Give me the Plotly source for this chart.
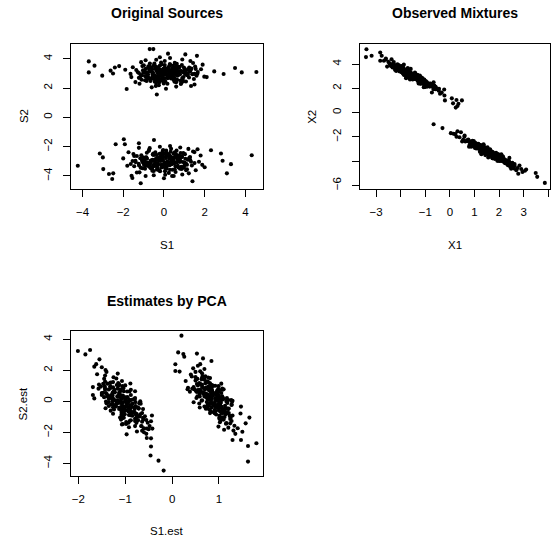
import plotly.graph_objects as go

# ---------------- data ----------------
# Panel 1: Original Sources (S1, S2) - upper cluster
sources_upper_s1 = [0.20,-0.61,1.18,-0.20,0.59,-1.14,0.90,0.04,0.45,-0.43,
 1.66,-0.08,0.75,-0.83,0.13,-0.31,1.08,-1.36,0.35,-0.69,
 0.67,-0.02,1.39,-0.38,0.85,-1.01,0.26,-0.53,0.98,-0.15,
 1.98,-1.64,0.53,-0.22,0.92,-0.90,0.17,-0.47,1.28,0.07,
 0.64,-1.23,0.39,-0.66,1.53,-0.28,0.29,-0.95,0.79,0.01,
 1.04,-0.57,0.49,-1.53,0.70,-0.11,1.23,-0.34,0.23,-0.78,
 1.82,-0.18,0.60,-1.10,0.41,-0.50,1.15,0.06,0.88,-0.88,
 0.32,-0.39,1.47,-0.05,0.56,-0.73,0.15,-1.29,0.97,-0.27,
 0.72,-0.63,1.35,-0.16,0.47,-1.06,0.82,0.02,1.11,-0.45,
 0.36,-0.93,0.63,-0.25,1.60,-0.55,0.24,-0.04,0.52,-0.36,
 -0.31,0.38,0.71,-0.91,0.18,-0.14,-0.56,1.32,-0.06,0.88,
 0.30,-0.43,1.04,-0.75,0.52,0.12,-1.08,0.60,-0.63,1.56,
 -0.22,0.76,-0.01,-1.23,0.47,0.23,1.17,-0.47,0.96,-0.09,
 -0.37,0.03,1.64,0.45,-0.78,0.78,-1.40,-0.18,0.40,0.04,
 0.65,-0.54,0.26,-0.99,1.12,1.02,-0.25,0.50,-0.03,-0.69,
 0.57,0.15,-0.85,1.01,0.34,1.43,-0.49,-0.34,0.85,-0.05,
 0.72,0.32,-1.18,-0.83,0.62,1.24,-0.16,-1.03,1.33,-0.38,
 0.20,0.69,-0.72,0.07,0.94,0.42,-0.45,0.29,0.24,-0.58,
 -0.10,0.98,0.83,-0.77,0.42,1.16,-0.93,0.61,0.14,-1.12,
 -0.40,-0.27,1.50,0.22,-0.23,0.00,0.36,-0.20,-0.51,0.54,
 0.30,-0.20,0.90,-0.90,1.30,0.60,-0.60,0.10,1.50,-1.20,-0.40,1.90,-1.90,-1.60,2.10,
 -3.69,-3.41,-3.69,-3.03,-2.62,-2.41,-0.70,-0.52,3.49,3.82,4.54,2.93,2.47,1.62,-0.35,-1.83,1.05,0.20,-2.20,-2.50]
sources_upper_s2 = [2.81,3.13,3.29,2.53,3.04,2.89,2.69,3.57,2.92,3.37,
 3.09,2.75,3.44,2.61,3.20,3.01,2.45,3.23,2.66,3.68,
 2.85,3.31,2.95,2.38,3.17,3.06,3.50,2.74,3.40,2.91,
 2.78,2.97,3.72,3.16,2.59,3.32,2.30,2.87,3.14,2.97,
 3.26,2.70,3.08,2.49,3.47,3.43,2.84,3.18,2.94,2.63,
 3.22,3.03,2.56,3.42,3.11,3.62,2.72,2.79,3.35,2.93,
 3.29,3.10,2.40,2.57,3.24,3.53,2.88,2.47,3.58,2.78,
 3.05,3.28,2.62,2.99,3.39,3.15,2.74,3.09,3.07,2.68,
 2.91,3.41,3.34,2.59,3.15,3.50,2.52,3.24,3.02,2.43,
 2.77,2.83,3.66,3.05,2.84,2.95,3.12,2.86,2.71,3.21,
 2.77,3.21,2.93,3.07,2.68,3.74,2.83,3.26,2.49,3.13,
 2.73,3.50,2.96,3.36,2.43,3.18,2.87,3.62,2.64,3.31,
 2.82,3.43,2.32,3.03,2.59,3.23,2.92,3.68,2.76,3.11,
 2.52,3.39,2.98,3.52,2.70,3.16,2.41,3.25,2.86,3.85,
 2.57,3.06,2.78,3.56,2.90,3.30,2.19,3.19,2.67,3.47,
 2.95,3.34,2.48,3.09,2.81,3.71,2.63,3.14,2.34,3.27,
 2.99,3.58,2.72,3.03,2.50,3.41,2.84,3.21,2.14,3.93,
 2.88,3.44,2.69,3.08,2.45,3.37,2.77,3.64,2.94,3.28,
 2.61,3.12,2.28,3.48,2.80,3.01,2.54,3.32,2.91,3.77,
 2.74,3.17,2.97,3.40,2.39,3.24,2.85,3.53,2.65,3.05,
 4.05,4.10,3.95,3.90,3.85,2.10,2.05,1.95,2.25,2.30,2.15,3.60,3.25,2.75,2.75,
 3.82,3.53,3.07,2.85,3.19,3.41,4.66,4.66,3.37,3.07,3.10,2.96,3.14,4.20,1.56,1.94,4.30,4.35,3.50,3.00]

# Panel 1: Original Sources - lower cluster
sources_lower_s1 = [0.10,-0.71,1.08,-0.30,0.49,-1.24,0.80,-0.06,0.35,-0.53,
 1.56,-0.18,0.65,-0.93,0.03,-0.41,0.98,-1.46,0.25,-0.79,
 0.57,-0.12,1.29,-0.48,0.75,-1.11,0.16,-0.63,0.88,-0.25,
 1.88,-1.74,0.43,-0.32,0.82,-1.00,0.07,-0.57,1.18,-0.03,
 0.54,-1.33,0.29,-0.76,1.43,-0.38,0.19,-1.05,0.69,-0.09,
 0.94,-0.67,0.39,-1.63,0.60,-0.21,1.13,-0.44,0.13,-0.88,
 1.72,-0.28,0.50,-1.20,0.31,-0.60,1.05,-0.04,0.78,-0.98,
 0.22,-0.49,1.37,-0.15,0.46,-0.83,0.05,-1.39,0.87,-0.37,
 0.62,-0.73,1.25,-0.26,0.37,-1.16,0.72,-0.08,1.01,-0.55,
 0.26,-1.03,0.53,-0.35,1.50,-0.65,0.14,-0.14,0.42,-0.46,
 0.41,-0.28,-0.61,1.01,-0.08,0.24,0.66,-1.22,0.16,-0.78,
 -0.20,0.53,-0.94,0.85,-0.42,-0.02,1.18,-0.50,0.73,-1.46,
 0.32,-0.66,0.11,1.33,-0.37,-0.13,-1.07,0.57,-0.86,0.19,
 0.47,0.07,-1.54,-0.35,0.88,-0.68,1.50,0.28,-0.30,0.06,
 -0.55,0.64,-0.16,1.09,-1.02,-0.92,0.35,-0.40,0.13,0.79,
 -0.47,-0.05,0.95,-0.91,-0.24,-1.33,0.59,0.44,-0.75,0.15,
 -0.62,-0.22,1.28,0.93,-0.52,-1.14,0.26,1.13,-1.23,0.48,
 -0.10,-0.59,0.82,0.03,-0.84,-0.32,0.55,-0.19,-0.14,0.68,
 0.20,-0.88,-0.73,0.87,-0.32,-1.06,1.03,-0.51,-0.04,1.22,
 0.50,0.37,-1.40,-0.12,0.33,0.10,-0.26,0.30,0.61,-0.44,
 0.30,-0.20,0.80,-0.70,1.20,0.40,-0.50,0.90,-0.90,0.00,1.80,-1.80,-2.00,2.00,-1.50,
 -4.23,-3.15,-3.00,-2.70,-2.49,-2.54,-2.37,-1.97,-1.92,-1.23,-0.49,1.65,2.31,2.80,2.88,3.29,3.09,4.31,-1.14,1.40,-2.98,-1.59,-1.55]
sources_lower_s2 = [-2.78,-3.31,-3.15,-2.87,-3.05,-3.17,-2.94,-2.30,-3.18,-3.25,
 -3.61,-2.98,-2.74,-3.51,-2.47,-2.84,-3.44,-2.64,-2.56,-3.10,
 -3.34,-2.93,-2.91,-3.27,-2.84,-2.58,-3.01,-3.41,-2.70,-2.95,
 -3.24,-2.38,-3.57,-3.13,-2.43,-2.74,-3.46,-3.64,-2.89,-2.69,
 -3.08,-2.63,-3.22,-3.30,-2.33,-2.88,-2.55,-3.47,-2.97,-2.77,
 -3.40,-3.06,-2.80,-3.18,-2.54,-2.49,-3.54,-2.92,-3.32,-2.73,
 -3.03,-2.85,-3.14,-3.75,-2.66,-3.44,-2.82,-2.23,-3.04,-3.23,
 -3.09,-2.57,-3.28,-2.46,-2.94,-2.82,-3.67,-3.05,-2.67,-3.16,
 -2.27,-3.36,-2.75,-3.59,-2.99,-2.79,-3.42,-2.53,-3.27,-2.90,
 -2.61,-3.08,-2.39,-3.33,-3.12,-2.96,-3.50,-2.69,-2.86,-3.20,
 -2.76,-3.22,-2.93,-3.08,-2.65,-3.79,-2.82,-3.28,-2.46,-3.14,
 -2.71,-3.54,-2.96,-3.38,-2.39,-3.19,-2.86,-3.66,-2.61,-3.33,
 -2.81,-3.46,-2.27,-3.03,-2.56,-3.24,-2.92,-3.73,-2.74,-3.12,
 -2.48,-3.41,-2.98,-3.56,-2.68,-3.17,-2.37,-3.27,-2.85,-3.91,
 -2.54,-3.07,-2.77,-3.60,-2.89,-3.32,-2.14,-3.21,-2.64,-3.50,
 -2.95,-3.37,-2.44,-3.10,-2.80,-3.76,-2.60,-3.15,-2.29,-3.28,
 -2.99,-3.63,-2.70,-3.04,-2.47,-3.44,-2.83,-3.23,-2.08,-4.00,
 -2.87,-3.47,-2.67,-3.09,-2.41,-3.40,-2.75,-3.68,-2.94,-3.30,
 -2.58,-3.13,-2.23,-3.52,-2.78,-3.01,-2.51,-3.34,-2.91,-3.82,
 -2.72,-3.19,-2.97,-3.42,-2.34,-3.26,-2.84,-3.57,-2.63,-3.05,
 -1.95,-2.00,-2.05,-2.10,-2.15,-4.00,-3.95,-3.90,-4.00,-4.15,-2.60,-3.30,-2.80,-3.40,-2.50,
 -3.30,-2.46,-2.73,-3.86,-3.82,-4.20,-1.83,-1.49,-1.83,-1.76,-1.54,-2.17,-2.24,-2.46,-2.96,-3.19,-3.82,-2.58,-4.49,-4.36,-3.53,-3.98,-4.14]

# Panel 2: Observed Mixtures (X1, X2) - upper cluster
mixtures_upper_x1 = [-1.48,-2.01,-0.85,-1.74,-1.23,-2.35,-1.03,-1.59,-1.32,-1.89,
 -0.54,-1.67,-1.13,-2.15,-1.53,-1.81,-0.92,-2.50,-1.39,-2.06,
 -1.18,-1.63,-0.71,-1.86,-1.07,-2.27,-1.45,-1.96,-0.98,-1.71,
 -0.33,-2.68,-1.27,-1.76,-1.02,-2.20,-1.51,-1.92,-0.79,-1.57,
 -1.20,-2.41,-1.36,-2.04,-0.63,-1.80,-1.43,-2.23,-1.10,-1.61,
 -0.94,-1.98,-1.30,-2.61,-1.16,-1.69,-0.82,-1.84,-1.47,-2.12,
 -0.44,-1.73,-1.23,-2.33,-1.35,-1.94,-0.87,-1.58,-1.04,-2.18,
 -1.41,-1.87,-0.66,-1.65,-1.25,-2.09,-1.52,-2.45,-0.99,-1.79,
 -1.15,-2.02,-0.74,-1.72,-1.31,-2.30,-1.08,-1.60,-0.90,-1.91,
 -1.38,-2.22,-1.21,-1.78,-0.58,-1.97,-1.46,-1.64,-1.28,-1.85,
 -1.82,-1.36,-1.14,-2.22,-1.50,-1.71,-1.99,-0.74,-1.66,-1.03,
 -1.42,-1.90,-0.93,-2.11,-1.27,-1.54,-2.34,-1.22,-2.04,-0.58,
 -1.77,-1.11,-1.62,-2.44,-1.30,-1.47,-0.84,-1.93,-0.98,-1.68,
 -1.86,-1.60,-0.52,-1.32,-2.14,-1.09,-2.55,-1.74,-1.35,-1.59,
 -1.18,-1.98,-1.44,-2.28,-0.87,-0.94,-1.78,-1.29,-1.63,-2.08,
 -1.24,-1.51,-2.18,-0.94,-1.39,-0.66,-1.95,-1.84,-1.05,-1.65,
 -1.14,-1.41,-2.40,-2.17,-1.20,-0.79,-1.72,-2.31,-0.73,-1.87,
 -1.48,-1.15,-2.10,-1.57,-0.99,-1.34,-1.92,-1.42,-1.45,-2.01,
 -1.68,-0.96,-1.06,-2.13,-1.33,-0.84,-2.23,-1.21,-1.53,-2.37,
 -1.88,-1.80,-0.61,-1.47,-1.77,-1.62,-1.38,-1.75,-1.96,-1.26,
 -3.39,-3.41,-3.18,-2.83,-2.77,-2.83,-2.60,-0.22,-0.20,0.08,0.27,0.49,0.13,0.35,0.31,0.24,-0.23,-0.40,-0.45]
mixtures_upper_x2 = [2.90,3.60,2.40,3.07,2.72,3.88,2.36,3.32,2.77,3.57,
 1.99,3.08,2.77,3.54,3.11,3.34,2.14,4.18,2.74,3.88,
 2.59,3.26,2.12,3.13,2.59,3.86,3.14,3.39,2.59,3.19,
 1.64,4.27,3.04,3.34,2.30,3.89,2.72,3.40,2.27,3.06,
 2.78,3.87,2.88,3.38,2.23,3.49,2.85,3.87,2.54,2.97,
 2.47,3.53,2.60,4.37,2.67,3.45,2.14,3.28,3.10,3.64,
 1.96,3.29,2.46,3.72,2.93,3.69,2.26,2.87,2.73,3.65,
 2.91,3.51,1.93,3.15,2.88,3.70,2.91,4.06,2.47,3.18,
 2.58,3.73,2.31,3.07,2.85,4.07,2.35,3.20,2.34,3.21,
 2.77,3.71,2.94,3.32,1.93,3.49,3.00,3.09,2.64,3.46,
 3.25,2.93,2.58,3.81,2.86,3.67,3.46,2.28,2.86,2.54,
 2.80,3.74,2.36,3.81,2.40,3.11,3.85,3.06,3.43,2.12,
 3.21,2.83,2.72,4.02,2.62,3.05,2.25,3.86,2.33,3.23,
 3.10,3.26,1.93,3.11,3.57,2.62,3.79,3.35,2.78,3.60,
 2.40,3.54,2.85,4.17,2.27,2.51,2.83,2.84,3.01,3.90,
 2.69,3.15,3.42,2.43,2.80,2.50,3.33,3.43,2.11,3.27,
 2.60,3.24,3.86,3.73,2.38,2.39,3.17,3.96,1.65,3.95,
 2.93,2.88,3.52,3.10,2.12,2.97,3.35,3.29,2.92,3.66,
 3.04,2.46,2.09,3.97,2.73,2.29,3.52,2.81,2.99,4.40,
 3.30,3.39,2.02,3.13,2.92,3.22,2.80,3.58,3.35,2.75,
 5.22,4.57,4.68,4.95,4.68,4.27,4.45,1.41,1.00,1.17,1.03,1.00,0.76,0.73,0.54,0.41,1.90,1.55,1.80]

# Panel 2: Observed Mixtures - lower cluster
mixtures_lower_x1 = [1.53,2.10,0.84,1.81,1.25,2.48,1.04,1.64,1.35,1.97,
 0.50,1.73,1.14,2.25,1.58,1.89,0.91,2.63,1.43,2.16,
 1.20,1.68,0.69,1.94,1.07,2.39,1.49,2.04,0.98,1.77,
 0.27,2.83,1.29,1.83,1.02,2.31,1.55,2.00,0.77,1.62,
 1.22,2.54,1.40,2.13,0.59,1.87,1.47,2.34,1.11,1.67,
 0.93,2.07,1.32,2.75,1.17,1.75,0.80,1.91,1.51,2.22,
 0.39,1.80,1.25,2.45,1.38,2.03,0.86,1.63,1.05,2.29,
 1.44,1.95,0.63,1.71,1.28,2.19,1.56,2.58,0.99,1.86,
 1.16,2.12,0.72,1.79,1.34,2.42,1.09,1.65,0.89,1.99,
 1.41,2.33,1.23,1.85,0.54,2.06,1.50,1.70,1.31,1.92,
 1.33,1.79,2.01,0.93,1.65,1.44,1.16,2.41,1.49,2.12,
 1.73,1.25,2.22,1.04,1.88,1.61,0.81,1.93,1.11,2.57,
 1.38,2.04,1.53,0.71,1.85,1.68,2.31,1.22,2.17,1.47,
 1.29,1.55,2.63,1.83,1.01,2.06,0.60,1.41,1.80,1.56,
 1.97,1.17,1.71,0.87,2.28,2.21,1.37,1.86,1.52,1.07,
 1.91,1.64,0.97,2.21,1.76,2.49,1.20,1.31,2.10,1.50,
 2.01,1.74,0.75,0.98,1.95,2.36,1.43,0.84,2.42,1.28,
 1.67,2.00,1.05,1.58,2.16,1.81,1.23,1.73,1.70,1.14,
 1.47,2.19,2.09,1.02,1.82,2.31,0.92,1.94,1.62,0.78,
 1.27,1.35,2.54,1.68,1.38,1.53,1.77,1.40,1.19,1.89,
 0.04,0.15,0.31,0.45,0.22,2.60,2.90,3.05,2.95,2.70,2.78,3.10,3.49,3.55,3.86,-0.66,-0.30]
mixtures_lower_x2 = [-3.14,-3.94,-2.56,-3.47,-2.95,-4.28,-2.69,-3.08,-3.11,-3.79,
 -2.38,-3.43,-2.72,-4.18,-3.08,-3.54,-2.74,-4.25,-2.95,-3.92,
 -3.01,-3.36,-2.31,-3.76,-2.69,-3.97,-3.19,-3.92,-2.53,-3.46,
 -2.00,-4.36,-3.19,-3.59,-2.47,-3.94,-3.43,-3.96,-2.38,-3.20,
 -2.93,-4.15,-3.17,-3.97,-1.99,-3.54,-2.99,-4.26,-2.78,-3.28,
 -2.75,-3.82,-2.94,-4.58,-2.68,-3.27,-2.67,-3.60,-3.33,-3.85,
 -2.04,-3.45,-2.98,-4.47,-2.94,-3.91,-2.45,-3.04,-2.73,-4.11,
 -3.17,-3.50,-2.39,-3.21,-2.94,-3.85,-3.51,-4.35,-2.53,-3.63,
 -2.57,-3.98,-2.28,-3.72,-3.03,-4.08,-2.92,-3.18,-2.65,-3.67,
 -2.96,-4.09,-2.68,-3.68,-2.24,-3.77,-3.38,-3.29,-2.94,-3.72,
 -2.89,-3.61,-3.71,-2.61,-3.19,-3.51,-2.74,-4.31,-2.92,-3.93,
 -3.30,-3.18,-3.96,-2.88,-3.31,-3.41,-2.38,-3.98,-2.58,-4.51,
 -2.97,-4.00,-2.86,-2.35,-3.35,-3.51,-4.03,-3.24,-3.79,-3.22,
 -2.71,-3.45,-4.40,-3.83,-2.51,-3.88,-1.90,-3.23,-3.44,-3.70,
 -3.47,-2.87,-3.30,-2.81,-3.98,-4.12,-2.62,-3.69,-3.04,-2.97,
 -3.61,-3.52,-2.34,-4.01,-3.38,-4.63,-2.68,-3.06,-3.50,-3.33,
 -3.74,-3.76,-2.23,-2.65,-3.42,-4.34,-3.03,-2.59,-3.74,-3.44,
 -3.31,-3.96,-2.55,-3.32,-3.62,-3.72,-2.78,-3.77,-3.37,-2.95,
 -2.95,-4.00,-3.45,-2.92,-3.43,-4.07,-2.32,-3.84,-3.28,-2.82,
 -2.81,-3.12,-4.30,-3.59,-2.74,-3.36,-3.41,-3.36,-2.68,-3.65,
 -1.70,-1.75,-1.55,-1.62,-1.78,-4.60,-4.65,-4.80,-4.90,-4.75,-5.05,-4.70,-4.98,-5.30,-5.80,-0.96,-1.28]

# Panel 3: Estimates by PCA (S1.est, S2.est) - left cluster
pca_left_s1 = [-1.08,-1.23,-0.62,-1.30,-0.88,-1.47,-0.90,-0.88,-0.97,-1.10,
 -0.54,-1.19,-0.71,-1.47,-0.98,-1.17,-0.92,-1.43,-1.08,-1.07,
 -0.92,-0.99,-0.66,-1.40,-0.76,-1.38,-0.84,-1.33,-0.64,-1.16,
 -0.54,-1.60,-0.68,-1.10,-0.93,-1.26,-1.26,-1.27,-0.64,-1.07,
 -0.80,-1.56,-0.94,-1.45,-0.45,-1.03,-1.04,-1.32,-0.85,-1.20,
 -0.69,-1.25,-1.07,-1.42,-0.83,-0.91,-0.79,-1.26,-0.90,-1.35,
 -0.42,-1.10,-1.09,-1.57,-0.87,-1.06,-0.76,-1.24,-0.62,-1.43,
 -0.97,-1.11,-0.75,-1.10,-0.78,-1.26,-1.12,-1.45,-0.76,-1.27,
 -0.89,-1.14,-0.55,-1.27,-0.89,-1.25,-0.98,-1.00,-0.73,-1.41,
 -1.04,-1.43,-0.67,-1.14,-0.64,-1.27,-0.97,-1.14,-1.01,-1.13,
 -1.24,-0.90,-0.89,-1.32,-1.13,-0.88,-1.30,-0.61,-1.26,-0.78,
 -1.08,-1.04,-0.79,-1.18,-1.11,-0.99,-1.44,-0.70,-1.38,-0.52,
 -1.20,-0.72,-1.31,-1.43,-1.08,-0.94,-0.76,-1.00,-0.88,-1.07,
 -1.35,-0.95,-0.60,-0.78,-1.41,-0.80,-1.69,-1.05,-1.01,-0.79,
 -1.03,-1.22,-1.07,-1.19,-0.79,-0.68,-1.42,-0.87,-1.20,-1.13,
 -0.93,-0.92,-1.50,-0.75,-1.04,-0.43,-1.35,-1.13,-1.05,-1.01,
 -0.87,-0.80,-1.52,-1.31,-1.06,-0.58,-1.18,-1.31,-0.97,-0.89,
 -1.06,-0.73,-1.39,-1.03,-0.98,-0.84,-1.29,-0.79,-1.03,-1.16,
 -1.24,-0.75,-1.07,-1.15,-1.02,-0.73,-1.50,-0.80,-1.07,-1.16,
 -1.28,-1.10,-0.65,-0.89,-1.35,-1.00,-1.02,-0.96,-1.34,-0.90,
 -2.01,-1.85,-1.75,-1.55,-1.62,-1.66,-1.69,-1.66,-0.45,-0.45,-0.46,-0.29,-0.18,-0.55,-0.50,-1.50,-1.40,-0.60,-0.48]
pca_left_s2 = [-0.40,0.75,-1.07,-0.20,-0.64,1.13,-1.26,0.41,-0.58,0.76,
 -1.75,-0.14,-0.47,0.55,0.01,0.32,-1.67,1.66,-0.69,1.31,
 -0.88,0.26,-1.59,-0.13,-0.80,1.14,0.12,0.33,-0.76,0.07,
 -2.37,1.75,0.00,0.36,-1.38,1.24,-0.80,0.38,-1.31,-0.13,
 -0.50,1.08,-0.38,0.27,-1.29,0.65,-0.47,1.18,-0.93,-0.34,
 -0.98,0.63,-0.93,2.02,-0.69,0.63,-1.60,0.18,0.03,0.77,
 -1.76,0.26,-1.18,0.82,-0.27,0.98,-1.39,-0.53,-0.50,0.75,
 -0.33,0.64,-1.95,0.03,-0.30,0.91,-0.40,1.46,-1.02,0.00,
 -0.89,1.02,-1.21,-0.19,-0.40,1.55,-1.33,0.16,-1.22,-0.01,
 -0.61,0.85,-0.15,0.30,-1.90,0.55,-0.19,-0.10,-0.83,0.55,
 0.10,-0.24,-0.82,0.97,-0.49,0.75,0.40,-1.17,-0.39,-0.83,
 -0.57,0.84,-1.13,1.05,-1.05,0.00,0.98,-0.12,0.32,-1.38,
 0.05,-0.45,-0.60,1.27,-0.86,-0.07,-1.30,1.03,-1.22,0.16,
 -0.05,0.27,-1.74,-0.05,0.53,-0.71,0.92,0.37,-0.55,0.65,
 -1.06,0.58,-0.48,1.47,-1.27,-0.83,-0.45,-0.38,-0.28,1.08,
 -0.65,0.10,0.41,-0.99,-0.54,-0.91,0.17,0.45,-1.46,0.25,
 -0.78,0.14,0.95,0.86,-1.09,-0.97,0.01,1.22,-2.13,1.15,
 -0.34,-0.38,0.45,-0.04,-1.46,-0.14,0.24,0.22,-0.33,0.82,
 -0.26,-0.94,-1.49,1.18,-0.64,-1.22,0.54,-0.39,-0.24,1.79,
 0.16,0.40,-1.61,0.08,-0.30,0.18,-0.52,0.63,0.21,-0.54,
 3.25,3.03,3.31,2.71,2.40,2.24,0.41,0.19,-2.39,-2.92,-3.50,-3.83,-4.47,-2.10,-1.80,2.20,1.90,-2.00,-1.60]

# Panel 3: Estimates by PCA - right cluster
pca_right_s1 = [0.97,0.60,1.12,0.84,1.00,0.50,1.11,1.08,0.92,0.67,
 1.11,0.84,1.13,0.48,1.05,0.82,1.01,0.60,1.08,0.64,
 0.93,0.87,1.25,0.67,1.13,0.71,0.92,0.59,1.20,0.83,
 1.31,0.60,0.83,0.76,1.27,0.69,0.76,0.54,1.23,0.97,
 1.00,0.64,0.89,0.59,1.46,0.82,1.07,0.46,1.07,0.93,
 1.01,0.68,1.04,0.40,1.18,0.98,1.02,0.79,0.82,0.73,
 1.33,0.85,0.97,0.34,1.07,0.59,1.21,1.10,1.08,0.55,
 0.91,0.88,1.16,1.00,1.02,0.71,0.69,0.50,1.21,0.73,
 1.26,0.58,1.29,0.63,0.98,0.64,0.94,1.00,1.07,0.76,
 1.07,0.58,1.20,0.69,1.24,0.72,0.77,0.94,1.03,0.70,
 0.85,0.88,1.06,0.61,1.00,0.58,0.77,1.10,1.00,1.03,
 1.02,0.59,1.13,0.55,1.17,0.83,0.63,0.81,0.81,1.15,
 0.86,0.91,1.07,0.54,1.10,0.84,1.17,0.52,1.17,0.80,
 0.92,0.74,1.27,0.80,0.76,1.00,0.69,0.73,1.00,0.59,
 1.16,0.70,0.99,0.43,1.17,1.01,1.05,0.92,0.96,0.53,
 1.01,0.79,0.81,1.08,1.00,0.99,0.85,0.72,1.28,0.76,
 1.04,0.75,0.65,0.64,1.17,1.04,0.87,0.53,1.47,0.46,
 0.94,0.89,0.78,0.85,1.27,0.84,0.82,0.72,0.94,0.62,
 0.96,1.06,1.29,0.51,1.03,1.14,0.77,0.91,0.92,0.33,
 0.84,0.73,1.24,0.78,0.99,0.78,0.99,0.64,0.84,0.97,
 0.20,0.13,0.24,0.26,0.53,0.66,0.84,0.07,0.07,0.16,0.29,0.38,1.65,1.80,1.62,1.62,1.29,1.47,1.50,1.57,
 0.45,0.55,1.40,1.35,1.20,0.50,0.42]
pca_right_s2 = [0.24,0.69,-1.01,0.59,-0.35,1.34,-0.58,0.75,-0.30,0.55,
 -1.83,0.38,-0.29,0.77,0.54,0.72,-1.12,1.94,0.25,0.92,
 -0.63,0.36,-1.06,0.48,-0.46,1.62,0.02,0.54,-0.50,0.48,
 -1.89,2.40,-0.65,0.43,-0.24,1.40,-0.21,0.32,-0.94,0.44,
 -0.41,1.81,-0.26,0.75,-0.79,0.67,0.32,0.93,-0.49,0.45,
 -1.05,0.83,-0.07,1.73,-0.10,0.77,-1.35,0.70,-0.17,1.28,
 -1.58,0.58,-0.42,0.88,0.11,0.49,-0.76,0.78,-0.63,1.02,
 -0.10,1.00,-1.41,0.73,-0.23,1.17,-0.34,1.56,-0.46,0.45,
 0.08,0.68,-0.91,0.04,-0.18,1.52,-0.85,0.60,-1.03,0.82,
 0.20,1.18,0.09,0.31,-1.42,0.89,-0.32,0.55,-0.14,0.51,
 0.75,-0.24,-0.35,1.11,0.36,-0.14,0.95,-1.18,0.73,-0.66,
 0.21,0.32,-0.68,0.73,0.22,0.04,1.42,-0.76,1.17,-1.45,
 0.64,-0.77,0.82,1.45,0.15,-0.10,-0.78,0.22,-0.45,0.29,
 1.01,-0.04,-1.27,-0.54,1.27,-0.59,2.09,0.27,0.01,-0.40,
 -0.01,0.76,0.20,0.81,-0.71,-0.92,1.14,-0.34,0.56,0.60,
 -0.23,-0.12,1.50,-0.75,0.10,-1.63,1.05,0.51,-0.03,0.14,
 -0.40,-0.46,1.63,1.06,0.07,-1.22,0.56,1.12,-0.34,-0.06,
 0.19,-0.71,1.21,0.16,-0.20,-0.40,0.90,-0.48,0.10,0.63,
 0.68,-0.75,0.04,0.66,0.03,-0.84,1.53,-0.55,0.22,0.78,
 0.86,0.41,-1.14,-0.22,0.98,0.10,0.05,0.07,1.04,-0.27,
 4.24,3.16,3.05,2.88,3.08,2.77,2.60,2.39,1.96,1.92,1.31,0.62,-1.05,-2.71,-2.88,-3.89,-2.50,-2.50,-1.96,-1.42,
 2.13,2.30,-1.74,-2.10,-1.70,1.90,1.60]

# tick values / labels
p1_xticks = [-4, -2, 0, 2, 4]
p1_yticks = [-4, -2, 0, 2, 4]
p2_xticks = [-3, -2, -1, 0, 1, 2, 3, 4]
p2_xlabels = ["\u22123", "", "\u22121", "0", "1", "2", "3", "4"]
p2_yticks = [-6, -4, -2, 0, 2, 4]
p2_ylabels = ["\u22126", "", "\u22122", "0", "2", "4"]
p3_xticks = [-2, -1, 0, 1]
p3_yticks = [-4, -2, 0, 2, 4]


def lab(v):
    return [("\u2212" + str(abs(t))) if t < 0 else str(t) for t in v]


FONT = "Liberation Sans, Arial, Helvetica, sans-serif"
W, H = 551, 539

fig = go.Figure()
mk = dict(size=4.1, color="black", line=dict(width=0))
for xs, ys, xa, ya in [
    (sources_upper_s1, sources_upper_s2, "x", "y"),
    (sources_lower_s1, sources_lower_s2, "x", "y"),
    (mixtures_upper_x1, mixtures_upper_x2, "x2", "y2"),
    (mixtures_lower_x1, mixtures_lower_x2, "x2", "y2"),
    (pca_left_s1, pca_left_s2, "x3", "y3"),
    (pca_right_s1, pca_right_s2, "x3", "y3"),
]:
    fig.add_trace(go.Scatter(x=xs, y=ys, mode="markers", marker=mk,
                             xaxis=xa, yaxis=ya, hoverinfo="skip", showlegend=False))

common = dict(showline=True, linecolor="black", linewidth=1, mirror=True,
              ticks="outside", ticklen=7, tickwidth=1, tickcolor="black",
              showgrid=False, zeroline=False, tickmode="array",
              tickfont=dict(family=FONT, size=11.5, color="black"),
              fixedrange=True)

def px_x(a, b):
    return [a / W, b / W]

def px_y(top, bottom):
    return [1 - bottom / H, 1 - top / H]

fig.update_layout(
    width=W, height=H, margin=dict(l=0, r=0, t=0, b=0),
    paper_bgcolor="white", plot_bgcolor="white", showlegend=False,
    xaxis=dict(common, domain=px_x(71, 263), range=[-4.57, 4.84], anchor="y",
               tickvals=p1_xticks, ticktext=lab(p1_xticks), ticklabelstandoff=6),
    yaxis=dict(common, domain=px_y(44, 189.3), range=[-4.86, 5.02], anchor="x",
               tickvals=p1_yticks, ticktext=lab(p1_yticks), tickangle=-90, ticklabelstandoff=6),
    xaxis2=dict(common, domain=px_x(360.7, 551), range=[-3.65, 4.07], anchor="y2",
                tickvals=p2_xticks, ticktext=p2_xlabels, ticklabelstandoff=6),
    yaxis2=dict(common, domain=px_y(44.3, 189.3), range=[-6.27, 5.64], anchor="x2",
                tickvals=p2_yticks, ticktext=p2_ylabels, tickangle=-90, ticklabelstandoff=6),
    xaxis3=dict(common, domain=px_x(71, 263), range=[-2.16, 1.93], anchor="y3",
                tickvals=p3_xticks, ticktext=lab(p3_xticks), ticklabelstandoff=6),
    yaxis3=dict(common, domain=px_y(332.7, 477.3), range=[-4.79, 4.51], anchor="x3",
                tickvals=p3_yticks, ticktext=lab(p3_yticks), tickangle=-90, ticklabelstandoff=6),
)

def ann(text, xpx, ypx, size, angle=0):
    fig.add_annotation(text=text, x=xpx / W, y=1 - ypx / H, xref="paper", yref="paper",
                       showarrow=False, xanchor="center", yanchor="middle", textangle=angle,
                       font=dict(family=FONT, size=size, color="black"))

ann("<b>Original Sources</b>", 167, 13, 14)
ann("<b>Observed Mixtures</b>", 455.8, 13, 14)
ann("<b>Estimates by PCA</b>", 167, 302, 14)
ann("S1", 167, 246, 11.5)
ann("S2", 24, 116.6, 11.5, -90)
ann("X1", 455.8, 246, 11.5)
ann("X2", 313, 116.8, 11.5, -90)
ann("S1.est", 167, 533, 11.5)
ann("S2.est", 24, 405, 11.5, -90)

fig.write_html("out.html")
